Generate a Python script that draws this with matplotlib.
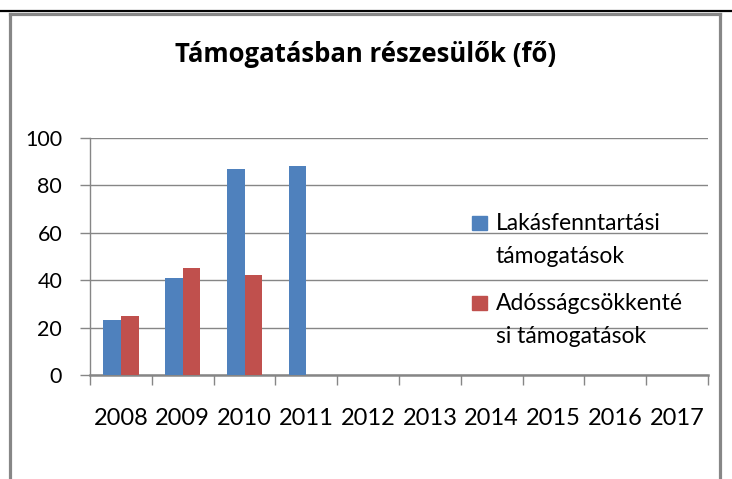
import numpy as np
import matplotlib
matplotlib.use("Agg")
import matplotlib.pyplot as plt
from matplotlib.lines import Line2D
from matplotlib.patches import Rectangle

# data
years = ['2008', '2009', '2010', '2011', '2012', '2013', '2014', '2015', '2016', '2017']
lakasfenntartasi = [23, 41, 87, 88, 0, 0, 0, 0, 0, 0]
adossagcsokkentesi = [25, 45, 42, 0, 0, 0, 0, 0, 0, 0]
series_names = ['Lakásfenntartási\ntámogatások', 'Adósságcsökkenté\nsi támogatások']
series_colors = ['#4F81BD', '#C0504D']
title = 'Támogatásban részesülők (fő)'

plt.rcParams['font.family'] = ['Lato', 'DejaVu Sans']

W, H = 732, 479
fig = plt.figure(figsize=(W / 100, H / 100), dpi=100)
fig.patch.set_facecolor('white')

def fx(px):
    return px / W

def fy(py):
    return 1 - py / H

# frame around the chart
fig.add_artist(Line2D([0, 1], [fy(11), fy(11)], color='black', lw=1.6))
gray = '#878787'
fig.add_artist(Line2D([fx(9.5), fx(9.5)], [fy(13.5), 0], color=gray, lw=2.3, solid_capstyle='projecting'))
fig.add_artist(Line2D([fx(719.5), fx(719.5)], [fy(13.5), 0], color=gray, lw=2.3, solid_capstyle='projecting'))
fig.add_artist(Line2D([fx(9.5), fx(719.5)], [fy(13.5), fy(13.5)], color=gray, lw=2.3, solid_capstyle='projecting'))

ax = fig.add_axes([fx(90), fy(375), fx(708) - fx(90), fy(138) - fy(375)])
x = np.arange(len(years))
w = 0.286
ax.bar(x - w / 2, lakasfenntartasi, w, color=series_colors[0], zorder=3)
ax.bar(x + w / 2, adossagcsokkentesi, w, color=series_colors[1], zorder=3)

ax.set_xlim(-0.5, len(years) - 0.5)
ax.set_ylim(0, 100)
ax.set_yticks(np.arange(0, 101, 20))
ax.yaxis.grid(True, color='#868686', lw=1.0, zorder=1)
ax.set_axisbelow(True)

ax.set_xticks(np.arange(-0.5, len(years), 1.0))
ax.set_xticklabels([])
ax.set_xticks(x, minor=True)
ax.set_xticklabels(years, minor=True, fontsize=17)
ax.tick_params(axis='x', which='major', length=7, width=1.0, color='#868686', direction='out')
ax.tick_params(axis='x', which='minor', length=0, pad=24)
ax.tick_params(axis='y', length=7, width=1.0, color='#868686', pad=13, labelsize=15.5)

for s in ['top', 'right']:
    ax.spines[s].set_visible(False)
ax.spines['left'].set_color('#868686')
ax.spines['left'].set_linewidth(1.0)
ax.spines['bottom'].set_color('#868686')
ax.spines['bottom'].set_linewidth(1.8)

fig.text(fx(366), fy(62), title, ha='center', va='baseline', fontsize=18.5,
         fontweight='bold', family=['Open Sans', 'DejaVu Sans'])

# legend, drawn by hand so the square sits beside the first line
leg_base = [230, 310]
for name, col, yy in zip(series_names, series_colors, leg_base):
    fig.add_artist(Rectangle((fx(472), fy(yy)), fx(15), 14 / H, color=col))
    for k, line in enumerate(name.split('\n')):
        fig.text(fx(496), fy(yy + 33 * k), line, ha='left', va='baseline', fontsize=16.5)

fig.savefig('out.png', dpi=100, facecolor='white')
